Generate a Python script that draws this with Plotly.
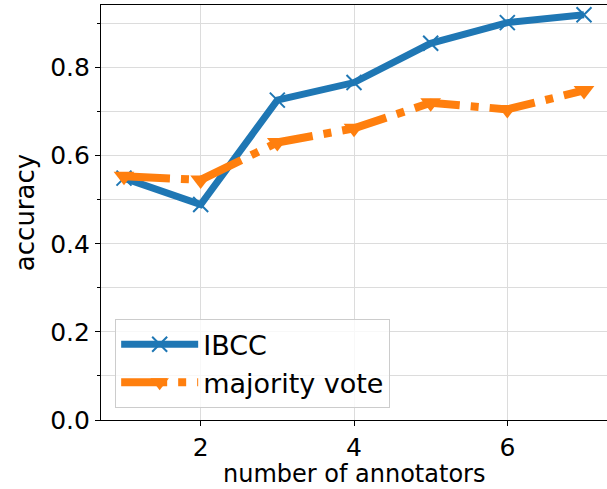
import plotly.graph_objects as go

# number of annotators per item
n_annotators = [1, 2, 3, 4, 5, 6, 7]
# accuracy of each aggregation method
ibcc_acc = [0.549, 0.489, 0.726, 0.766, 0.855, 0.902, 0.920]
majority_acc = [0.553, 0.545, 0.630, 0.662, 0.720, 0.705, 0.748]

y_ticks = [0.0, 0.2, 0.4, 0.6, 0.8]
x_ticks = [2, 4, 6]

BLUE = "#1f77b4"
ORANGE = "#ff7f0e"
FONT = "DejaVu Sans"
TICK_FS = 25
TITLE_FS = 24
LEGEND_FS = 27

fig = go.Figure()
fig.add_trace(go.Scatter(
    x=n_annotators, y=ibcc_acc, name="IBCC", mode="lines+markers",
    line=dict(color=BLUE, width=7),
    marker=dict(symbol="x-thin", size=15, line=dict(color=BLUE, width=2)),
))
fig.add_trace(go.Scatter(
    x=n_annotators, y=majority_acc, name="majority vote", mode="lines+markers",
    line=dict(color=ORANGE, width=8, dash="46px,11px,8px,11px"),
    marker=dict(symbol="triangle-down", size=18, color=ORANGE),
))

axis_common = dict(
    showline=True, linecolor="black", linewidth=1.2, mirror=True,
    ticks="outside", ticklen=5, tickwidth=1.2, tickcolor="black",
    showgrid=True, gridcolor="#dcdcdc", gridwidth=1.2,
    zeroline=False, tickfont=dict(family=FONT, size=TICK_FS, color="black"),
)

fig.update_xaxes(range=[0.7, 7.3], tickvals=x_ticks, ticklabelstandoff=0, **axis_common)
fig.update_yaxes(
    range=[0, 0.942], tickvals=y_ticks, tickformat=".1f",
    minor=dict(dtick=0.1, tick0=0, ticks="outside", ticklen=3, tickcolor="black",
               showgrid=True, gridcolor="#dcdcdc", gridwidth=1.2),
    title=dict(text="accuracy", font=dict(family=FONT, size=26, color="black"), standoff=8),
    **axis_common,
)

# x-axis title placed at the bottom edge of the figure
fig.add_annotation(
    text="number of annotators", xref="paper", yref="paper",
    x=0.5, y=-0.1663, xanchor="center", yanchor="bottom", showarrow=False,
    font=dict(family=FONT, size=TITLE_FS, color="black"), borderpad=0,
)

fig.update_layout(
    width=607, height=489,
    margin=dict(l=101, r=0, t=5, b=69),
    paper_bgcolor="white", plot_bgcolor="white",
    font=dict(family=FONT, color="black"),
    legend=dict(
        x=0.028, y=0.243, xanchor="left", yanchor="top",
        bgcolor="rgba(255,255,255,0.8)", bordercolor="#cccccc", borderwidth=1,
        font=dict(family=FONT, size=LEGEND_FS, color="black"),
        itemwidth=77, tracegroupgap=4,
    ),
)

fig.write_html("out.html")
